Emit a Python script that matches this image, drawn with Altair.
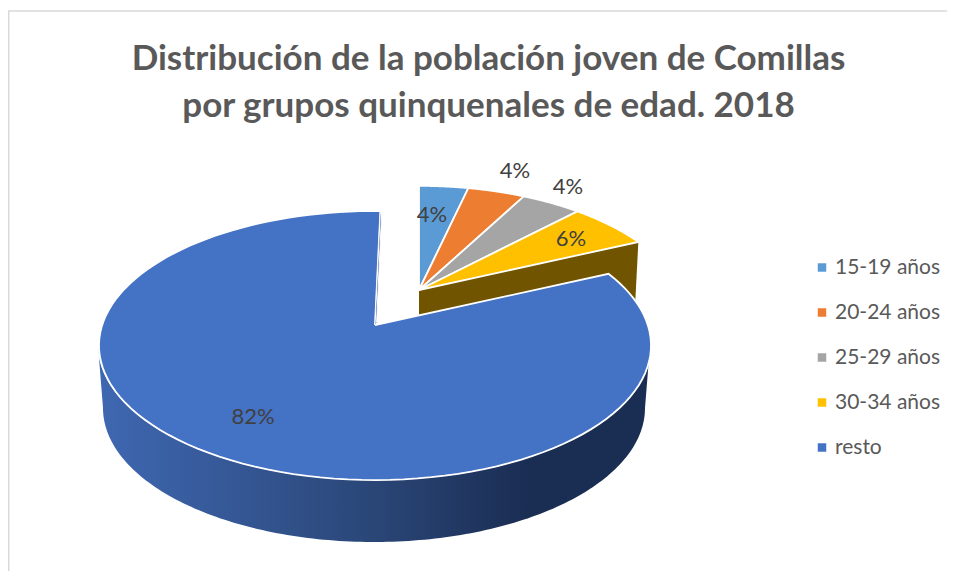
import numpy as np
import pandas as pd
import altair as alt

TITLE = ["Distribución de la población joven de Comillas",
         "por grupos quinquenales de edad. 2018"]
groups = ["15-19 años", "20-24 años", "25-29 años", "30-34 años", "resto"]
shares = [3.64, 4.22, 4.39, 5.95, 81.8]
labels = ["4%", "4%", "4%", "6%", "82%"]
colors = ["#5B9BD5", "#ED7D31", "#A5A5A5", "#FFC000", "#4472C4"]
label_x = [432, 515, 568, 571, 253]
label_y = [215, 171, 187, 239, 417]

# Camera: apex position, scale and perspective of each part of the pie
SMALL = dict(ax=419, ay=290, s=262, t=126, k=0.21)
MAIN = dict(ax=375, ay=325, s=272.8, t=131.4, k=0.1524)
END_OVERSHOOT = 1.3  # degrees


def rim(cam, deg):
    th = np.radians(deg)
    d = 1 + cam["k"] * np.cos(th)
    return cam["ax"] + cam["s"] * np.sin(th) / d, cam["ay"] - cam["t"] * np.cos(th) / d


rows = []
start = 0.0
for g, v in zip(groups, shares):
    a0, a1 = start * 3.6, (start + v) * 3.6
    start += v
    cam = MAIN if g == "resto" else SMALL
    if g == "resto":
        a1 += END_OVERSHOOT
    pts = [(cam["ax"], cam["ay"])] + [rim(cam, a) for a in np.linspace(a0, a1, 120)] + [(cam["ax"], cam["ay"])]
    for i, (x, y) in enumerate(pts):
        rows.append(dict(group=g, x=x, y=y, o=i))
slices = pd.DataFrame(rows)

# Side wall of the main slice
phi = np.linspace(0, np.pi, 160)
top_x, top_y = 374 + 276 * np.cos(phi), 345.5 + 134.5 * np.sin(phi)
low_x, low_y = 374 + 271 * np.cos(phi), 408 + 134 * np.sin(phi)
wx = np.concatenate([top_x, low_x[::-1]])
wy = np.concatenate([top_y, low_y[::-1]])
wall = pd.DataFrame(dict(x=wx, y=wy, o=np.arange(len(wx))))

# Cut face of the yellow slice
yx, yy = rim(SMALL, sum(shares[:4]) * 3.6)
cut = pd.DataFrame(dict(x=[SMALL["ax"], yx, yx - 3, SMALL["ax"]],
                        y=[SMALL["ay"], yy, yy + 58, SMALL["ay"] + 30],
                        o=[0, 1, 2, 3]))

# Thin visible cut face where the main slice closes
ex, ey = rim(MAIN, 360 + END_OVERSHOOT)
sliver = pd.DataFrame(dict(x=[MAIN["ax"], ex, ex + 1.2, MAIN["ax"] + 1.6],
                           y=[MAIN["ay"], ey, ey + 4, MAIN["ay"] - 3],
                           o=[0, 1, 2, 3]))

X = alt.X("x:Q", scale=alt.Scale(domain=[8, 947]), axis=None)
Y = alt.Y("y:Q", scale=alt.Scale(domain=[571, 8]), axis=None)

wall_fill = alt.LinearGradient(gradient="linear", x1=0, x2=1, y1=0, y2=0, stops=[
    alt.GradientStop(color="#3F68B2", offset=0),
    alt.GradientStop(color="#2A4677", offset=0.5),
    alt.GradientStop(color="#1A2D53", offset=0.78),
    alt.GradientStop(color="#1A2D53", offset=1),
])
wall_layer = alt.Chart(wall).mark_line(strokeWidth=0, fill=wall_fill).encode(x=X, y=Y, order="o:Q")

cut_layer = alt.Chart(cut).mark_line(strokeWidth=0, fill="#705400").encode(x=X, y=Y, order="o:Q")

sliver_layer = alt.Chart(sliver).mark_line(stroke="white", strokeWidth=1, fill="#2F5597").encode(
    x=X, y=Y, order="o:Q")

slice_layer = alt.Chart(slices).mark_line(stroke="white", strokeWidth=1.8).encode(
    x=X, y=Y, order="o:Q",
    fill=alt.Fill("group:N",
                  scale=alt.Scale(domain=groups, range=colors),
                  legend=alt.Legend(orient="none", legendX=803.5, legendY=249, title=None,
                                    symbolType="square", symbolSize=72, symbolStrokeWidth=0,
                                    labelFont="Lato", labelFontSize=21, labelColor="#595959",
                                    labelOffset=2.5, rowPadding=23, columns=1)),
)

label_layer = alt.Chart(pd.DataFrame(dict(x=label_x, y=label_y, t=labels))).mark_text(
    font="Lato", fontSize=22, color="#404040", baseline="middle"
).encode(x=X, y=Y, text="t:N")

top_rule = alt.Chart(pd.DataFrame(dict(x=[8], x2=[947], y=[11]))).mark_rule(
    color="#D9D9D9", strokeWidth=1.5).encode(x=X, x2="x2:Q", y=Y)
left_rule = alt.Chart(pd.DataFrame(dict(x=[8.7], y=[11], y2=[571]))).mark_rule(
    color="#D9D9D9", strokeWidth=1.5).encode(x=X, y=Y, y2="y2:Q")

chart = alt.layer(top_rule, left_rule, wall_layer, cut_layer, slice_layer, sliver_layer, label_layer).properties(
    width=939, height=563,
    padding=0,
    autosize=alt.AutoSizeParams(type="none"),
    title=alt.TitleParams(text=TITLE, font="Lato", fontSize=35, fontWeight="bold",
                          color="#595959", anchor="middle", frame="group",
                          lineHeight=47, offset=-116, dx=11),
).configure_view(stroke=None)

chart.save("out.html", embed_options={"renderer": "svg", "actions": False})
